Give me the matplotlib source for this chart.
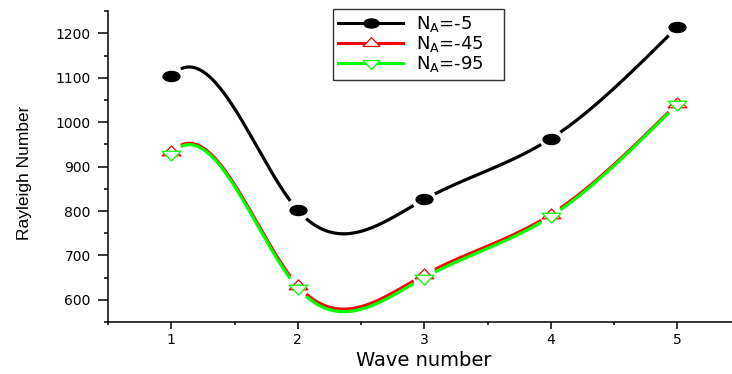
#!/usr/bin/env python3
"""Rayleigh number against wave number for three values of N_A."""

import numpy as np
import matplotlib
matplotlib.use("Agg")
import matplotlib.pyplot as plt
from matplotlib.lines import Line2D
from matplotlib.path import Path
from matplotlib.ticker import MultipleLocator

WAVE_NUMBER = [1, 2, 3, 4, 5]
RAYLEIGH_N5 = [1104, 802, 826, 963, 1214]
RAYLEIGH_N45 = [932, 632, 656, 792, 1042]
RAYLEIGH_N95 = [929, 627, 650, 788, 1040]
LABELS = [r"N$_\mathregular{A}$=-5", r"N$_\mathregular{A}$=-45",
          r"N$_\mathregular{A}$=-95"]

# end slopes of the smooth connecting curve (Origin style spline)
SLOPE_LEFT, SLOPE_RIGHT = 300, 280
GAP_PX = 11

plt.rcParams["font.family"] = ["DejaVu Sans"]
plt.rcParams["mathtext.fontset"] = "dejavusans"

# flattened markers, centred on the centroid like the original
_circ = Path.unit_circle()
ELLIPSE = Path(_circ.vertices * [1.0, 0.6], _circ.codes)
TRI_UP = Path([(0, 0.70), (-1, -0.35), (1, -0.35), (0, 0.70)],
              [Path.MOVETO, Path.LINETO, Path.LINETO, Path.CLOSEPOLY])
TRI_DOWN = Path([(0, -0.70), (-1, 0.35), (1, 0.35), (0, -0.70)],
                [Path.MOVETO, Path.LINETO, Path.LINETO, Path.CLOSEPOLY])


def clamped_spline(x, y, s_left, s_right, num=120):
    """Cubic spline through (x, y) with given end slopes."""
    x = np.asarray(x, float)
    y = np.asarray(y, float)
    n = len(x)
    h = np.diff(x)
    A = np.zeros((n, n))
    b = np.zeros(n)
    A[0, 0] = A[-1, -1] = 1
    b[0], b[-1] = s_left, s_right
    for i in range(1, n - 1):
        A[i, i - 1] = 1 / h[i - 1]
        A[i, i] = 2 * (1 / h[i - 1] + 1 / h[i])
        A[i, i + 1] = 1 / h[i]
        b[i] = 3 * ((y[i] - y[i - 1]) / h[i - 1] ** 2
                    + (y[i + 1] - y[i]) / h[i] ** 2)
    s = np.linalg.solve(A, b)
    xs, ys = [], []
    for i in range(n - 1):
        t = np.linspace(0, 1, num)
        h00 = 2 * t**3 - 3 * t**2 + 1
        h10 = t**3 - 2 * t**2 + t
        h01 = -2 * t**3 + 3 * t**2
        h11 = t**3 - t**2
        xs.append(x[i] + t * h[i])
        ys.append(h00 * y[i] + h10 * h[i] * s[i] + h01 * y[i + 1]
                  + h11 * h[i] * s[i + 1])
    return np.concatenate(xs), np.concatenate(ys)


def with_gaps(ax, xs, ys, px, py, radius):
    """Blank the curve where it runs close to a symbol."""
    pts = ax.transData.transform(np.column_stack([xs, ys]))
    marks = ax.transData.transform(np.column_stack([px, py]))
    d = np.hypot(pts[:, None, 0] - marks[None, :, 0],
                 pts[:, None, 1] - marks[None, :, 1]).min(axis=1)
    return np.where(d < radius, np.nan, ys)


def main():
    fig = plt.figure(figsize=(7.32, 3.74), dpi=100)
    ax = fig.add_axes([108 / 732, 52 / 374, 632.5 / 732, 310.8 / 374])
    ax.set_xlim(0.5, 5.5)
    ax.set_ylim(550, 1250)

    series = [
        (RAYLEIGH_N5, "black", ELLIPSE, "black", 12.2),
        (RAYLEIGH_N45, "#ff0000", TRI_UP, "white", 13.5),
        (RAYLEIGH_N95, "#00ff00", TRI_DOWN, "white", 13.5),
    ]
    handles = []
    for vals, color, marker, face, size in series:
        xs, ys = clamped_spline(WAVE_NUMBER, vals, SLOPE_LEFT, SLOPE_RIGHT)
        ys = with_gaps(ax, xs, ys, WAVE_NUMBER, vals, GAP_PX)
        ax.plot(xs, ys, color=color, lw=2.3, solid_capstyle="butt")
        ax.plot(WAVE_NUMBER, vals, ls="none", marker=marker, ms=size,
                mfc=face, mec=color, mew=0.9)
        handles.append(Line2D([], [], color=color, lw=2.2, marker=marker,
                              ms=size * 0.9, mfc=face, mec=color, mew=0.9))

    # legend frame spans a fixed box, as in the original
    leg = fig.legend(handles, LABELS, loc="upper left", mode="expand",
                     bbox_to_anchor=(333 / 732, 1 - 78 / 374,
                                     171 / 732, 69 / 374),
                     bbox_transform=fig.transFigure, borderaxespad=0,
                     fontsize=13, handlelength=3.6, handletextpad=0.7,
                     labelspacing=0.0, borderpad=0.3, fancybox=False,
                     framealpha=1, edgecolor="#333333")
    leg.get_frame().set_linewidth(1.0)

    for side in ("top", "right"):
        ax.spines[side].set_visible(False)
    for side in ("left", "bottom"):
        ax.spines[side].set_linewidth(1.1)

    ax.xaxis.set_major_locator(MultipleLocator(1))
    ax.xaxis.set_minor_locator(MultipleLocator(0.5))
    ax.yaxis.set_major_locator(MultipleLocator(100))
    ax.yaxis.set_minor_locator(MultipleLocator(50))
    ax.tick_params(axis="y", which="major", direction="out", length=7,
                   width=1.1, pad=5.5, labelsize=10)
    ax.tick_params(axis="y", which="minor", direction="out", length=3,
                   width=1.1)
    ax.tick_params(axis="x", which="major", direction="out", length=5,
                   width=1.1, pad=3, labelsize=10)
    ax.tick_params(axis="x", which="minor", direction="out", length=2.5,
                   width=1.1)

    ax.set_xlabel("Wave number", fontsize=14)
    ax.xaxis.set_label_coords(0.5, -0.093)
    ax.set_ylabel("Rayleigh Number", fontsize=12.5,
                  family=["Liberation Sans Narrow", "Liberation Sans"])
    ax.yaxis.set_label_coords(-0.12, 0.481)

    fig.savefig("out.png", dpi=100)
    plt.close(fig)


if __name__ == "__main__":
    main()
